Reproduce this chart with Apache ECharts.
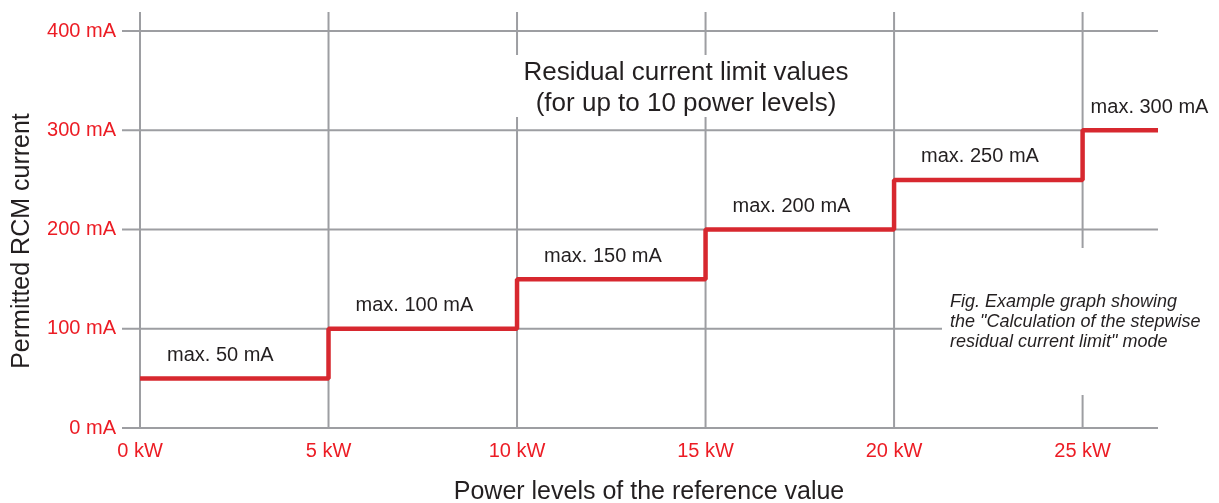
<!DOCTYPE html>
<html>
<head>
<meta charset="utf-8">
<script src="https://cdn.jsdelivr.net/npm/echarts@6/dist/echarts.min.js"></script>
<style>
  html, body { margin: 0; padding: 0; background: #fff; }
  #chart { width: 1219px; height: 503px; }
</style>
</head>
<body>
<div id="chart"></div>
<script>
// step limits: from each power level onward the permitted current is limitMA
var powerKW = [0, 5, 10, 15, 20, 25]
var limitMA = [50, 100, 150, 200, 250, 300]
var xTicks = [0, 5, 10, 15, 20, 25]
var yTicks = [0, 100, 200, 300, 400]
var xMax = 27
var yMax = 400

var RED = '#ec1c24'
var LINE_RED = '#d7282f'
var GRID = '#9d9ea2'
var TEXT = '#231f20'
var FONT = '"Liberation Sans", Arial, sans-serif'

var chart = echarts.init(document.getElementById('chart'))

// stepped line points, last segment runs to the right edge
var stepData = powerKW.map(function (p, i) { return [p, limitMA[i]] })
stepData.push([xMax, limitMA[limitMA.length - 1]])

var labelData = powerKW.map(function (p, i) {
  var last = i === powerKW.length - 1
  return {
    value: [p, limitMA[i]],
    label: { offset: [last ? 8 : 27, 0] }
  }
})

function vGrid (params, api) {
  var x = api.value(0)
  var top = api.coord([x, yMax])
  var bot = api.coord([x, 0])
  return {
    type: 'line',
    shape: { x1: top[0], y1: top[1] - 19, x2: bot[0], y2: bot[1] },
    style: { stroke: GRID, lineWidth: 2 }
  }
}

function hGrid (params, api) {
  var y = api.value(1)
  var left = api.coord([0, y])
  var right = api.coord([xMax, y])
  return {
    type: 'line',
    shape: { x1: left[0] - 18, y1: left[1], x2: right[0], y2: right[1] },
    style: { stroke: GRID, lineWidth: 2 }
  }
}

chart.setOption({
  animation: false,
  textStyle: { fontFamily: FONT },
  grid: {
    left: 140,
    right: 61,
    top: 31,
    bottom: 75,
    outerBoundsMode: 'none'
  },
  xAxis: {
    type: 'value',
    min: 0,
    max: xMax,
    interval: 5,
    name: 'Power levels of the reference value',
    nameLocation: 'middle',
    nameGap: 52,
    nameTextStyle: { color: TEXT, fontSize: 25, fontFamily: FONT },
    axisLine: { show: false },
    axisTick: { show: false },
    splitLine: { show: false },
    axisLabel: {
      color: RED,
      fontSize: 20,
      margin: 13,
      formatter: function (v) {
        return xTicks.indexOf(v) >= 0 ? v + ' kW' : ''
      }
    }
  },
  yAxis: {
    type: 'value',
    min: 0,
    max: yMax,
    interval: 100,
    axisLine: { show: false },
    axisTick: { show: false },
    splitLine: { show: false },
    axisLabel: {
      color: RED,
      fontSize: 20,
      margin: 24,
      formatter: function (v) { return v + ' mA' }
    }
  },
  graphic: [
    {
      type: 'rect',
      z: 100,
      shape: { x: 511, y: 55, width: 352, height: 62 },
      style: { fill: '#fff' }
    },
    {
      type: 'text',
      z: 101,
      x: 686,
      y: 88,
      style: {
        text: 'Residual current limit values\n(for up to 10 power levels)',
        fill: TEXT,
        font: '26px ' + FONT,
        lineHeight: 31,
        align: 'center',
        verticalAlign: 'middle'
      }
    },
    {
      type: 'rect',
      z: 100,
      shape: { x: 942, y: 248, width: 277, height: 147 },
      style: { fill: '#fff' }
    },
    {
      type: 'text',
      z: 101,
      x: 950,
      y: 292,
      style: {
        text: 'Fig. Example graph showing\nthe "Calculation of the stepwise\nresidual current limit" mode',
        fill: TEXT,
        font: 'italic 18px ' + FONT,
        lineHeight: 20,
        align: 'left',
        verticalAlign: 'top'
      }
    },
    {
      type: 'text',
      z: 101,
      x: 22,
      y: 241,
      rotation: Math.PI / 2,
      style: {
        text: 'Permitted RCM current',
        fill: TEXT,
        font: '25px ' + FONT,
        align: 'center',
        verticalAlign: 'middle'
      }
    }
  ],
  series: [
    {
      type: 'custom',
      z: 1,
      silent: true,
      renderItem: vGrid,
      data: xTicks.map(function (v) { return [v, 0] })
    },
    {
      type: 'custom',
      z: 1,
      silent: true,
      renderItem: hGrid,
      data: yTicks.map(function (v) { return [0, v] })
    },
    {
      type: 'line',
      z: 3,
      step: 'end',
      symbol: 'none',
      data: stepData,
      lineStyle: { color: LINE_RED, width: 4.5 }
    },
    {
      type: 'scatter',
      z: 4,
      symbolSize: 0,
      silent: true,
      data: labelData,
      itemStyle: { opacity: 1 },
      label: {
        show: true,
        position: 'top',
        align: 'left',
        distance: 13,
        opacity: 1,
        color: TEXT,
        fontSize: 20,
        fontFamily: FONT,
        formatter: function (p) { return 'max. ' + p.value[1] + ' mA' }
      }
    }
  ]
})
</script>
</body>
</html>
